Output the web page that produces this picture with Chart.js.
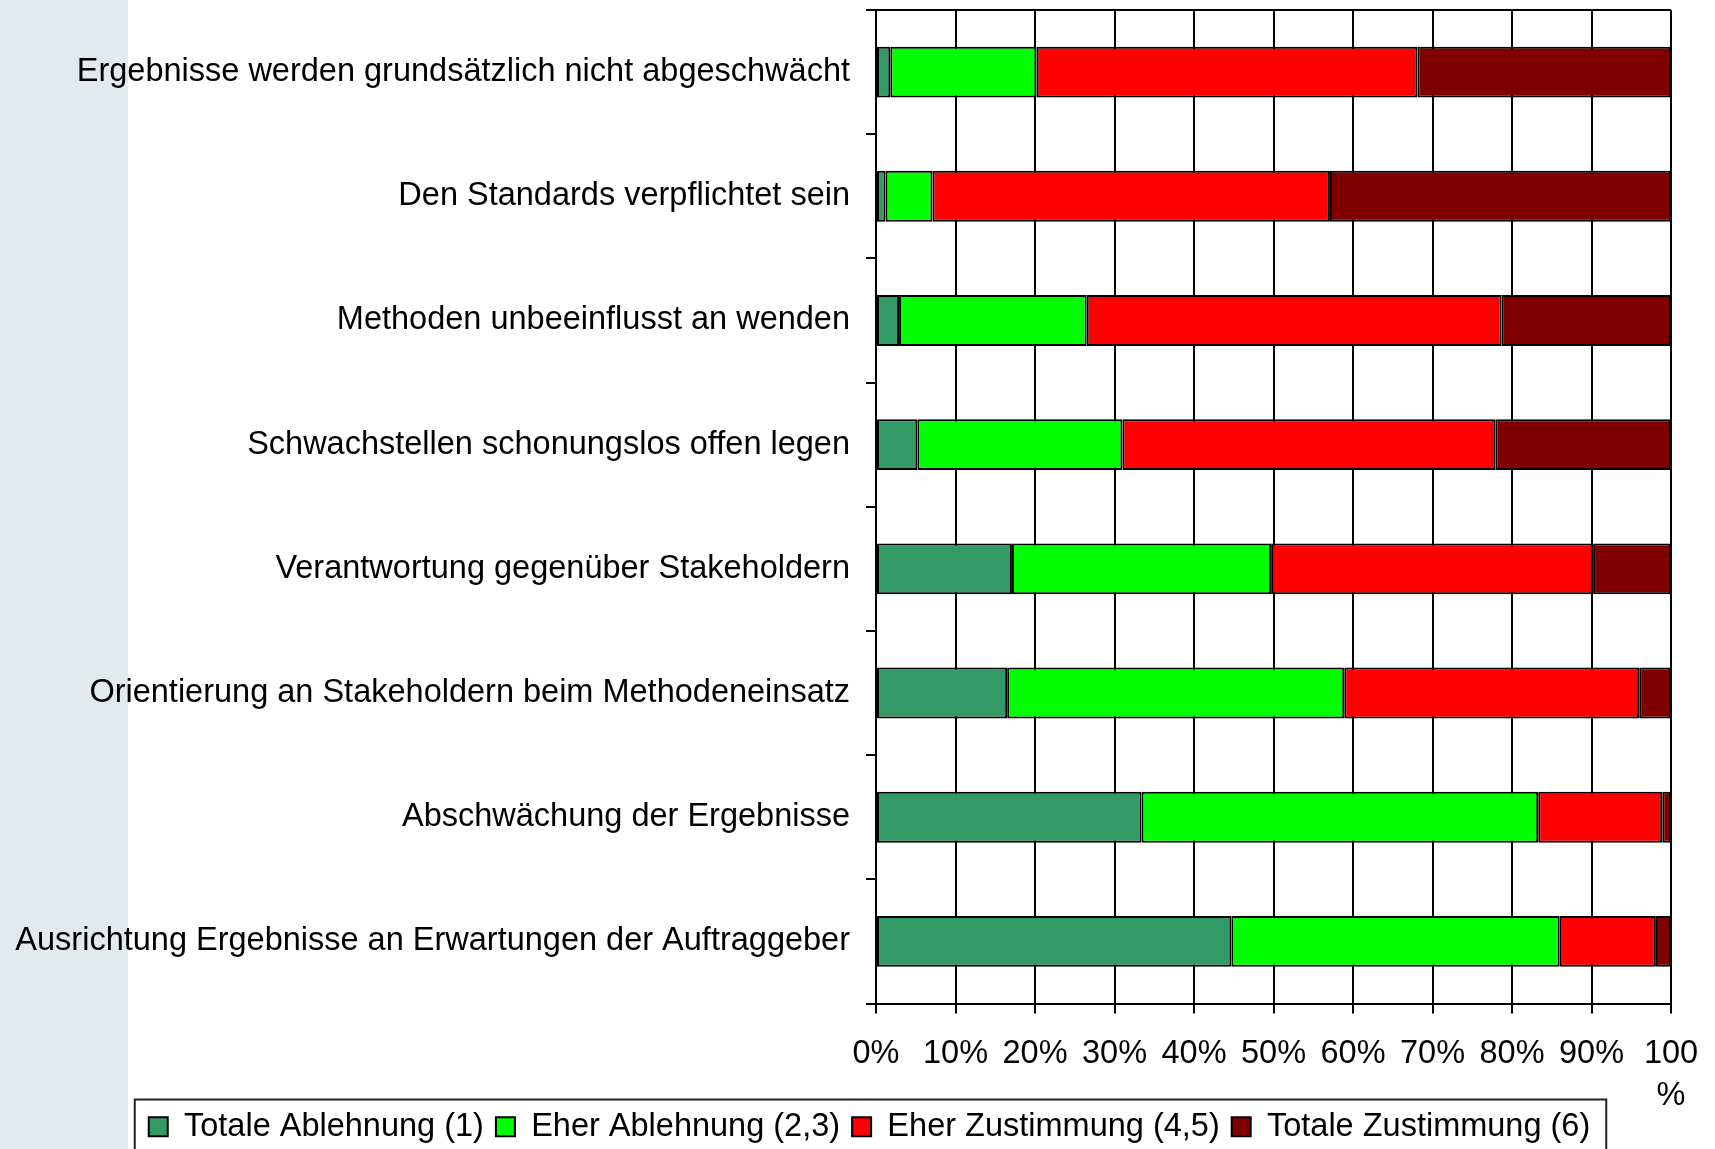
<!DOCTYPE html>
<html>
<head>
<meta charset="utf-8">
<script src="https://cdn.jsdelivr.net/npm/chart.js@4"></script>
<style>
    html, body { margin: 0; padding: 0; overflow: hidden; }
    body {
        width: 1715px;
        height: 1149px;
        background: linear-gradient(to right, #e3eaee 128px, #ffffff 128px);
    }
    canvas { display: block; }
</style>
</head>
<body>
<canvas id="umfrageChart" width="1715" height="1160"></canvas>
<script>
// Kategorien (von oben nach unten)
const kategorien = [
    'Ergebnisse werden grundsätzlich nicht abgeschwächt',
    'Den Standards verpflichtet sein',
    'Methoden unbeeinflusst an wenden',
    'Schwachstellen schonungslos offen legen',
    'Verantwortung gegenüber Stakeholdern',
    'Orientierung an Stakeholdern beim Methodeneinsatz',
    'Abschwächung der Ergebnisse',
    'Ausrichtung Ergebnisse an Erwartungen der Auftraggeber'
];

// Anteile in %
const totaleAblehnung  = [1.8, 1.2, 2.9, 5.2, 17.1, 16.5, 33.4, 44.7];
const eherAblehnung    = [18.4, 5.9, 23.6, 25.8, 32.6, 42.4, 49.9, 41.3];
const eherZustimmung   = [47.9, 50.0, 52.2, 46.9, 40.5, 37.1, 15.6, 12.1];
const totaleZustimmung = [31.9, 42.9, 21.3, 22.1, 9.8, 4.0, 1.1, 1.9];

const tickLabels = ['0%', '10%', '20%', '30%', '40%', '50%', '60%', '70%', '80%', '90%', ['100', '%']];

Chart.defaults.font.family = '"Liberation Sans", Arial, sans-serif';
Chart.defaults.font.size = 32.5;
Chart.defaults.color = '#000';

// Legende etwas nach rechts, Beschriftung der x-Achse nicht abschneiden
const anpassungen = {
    id: 'anpassungen',
    afterLayout(chart) {
        chart.legend.left += 34;
        chart.legend.right += 34;
        chart.scales.x.bottom += 40;
    },
    afterDraw(chart) {
        // Rahmen um die Legende
        const lg = chart.legend;
        const boxes = lg.legendHitBoxes;
        if (!boxes || !boxes.length) return;
        const first = boxes[0];
        const last = boxes[boxes.length - 1];
        const ctx = chart.ctx;
        ctx.save();
        ctx.strokeStyle = '#222';
        ctx.lineWidth = 2;
        const x = first.left - 14;
        const y = lg.top + lg.options.labels.padding - 11;
        ctx.strokeRect(x, y, last.left + last.width + 16 - x, 200);
        ctx.restore();
    }
};

const ctx = document.getElementById('umfrageChart').getContext('2d');

new Chart(ctx, {
    type: 'bar',
    data: {
        labels: kategorien,
        datasets: [
            { label: 'Totale Ablehnung (1)', data: totaleAblehnung, backgroundColor: '#339966' },
            { label: 'Eher Ablehnung (2,3)', data: eherAblehnung, backgroundColor: '#00ff00' },
            { label: 'Eher Zustimmung (4,5)', data: eherZustimmung, backgroundColor: '#ff0000' },
            { label: 'Totale Zustimmung (6)', data: totaleZustimmung, backgroundColor: '#800000' }
        ]
    },
    options: {
        indexAxis: 'y',
        responsive: false,
        animation: false,
        datasets: {
            bar: {
                borderColor: '#000',
                borderWidth: 2,
                borderSkipped: false,
                categoryPercentage: 1,
                barPercentage: 0.41
            }
        },
        layout: {
            padding: { left: 0, right: 44, top: 10, bottom: 7 }
        },
        scales: {
            x: {
                stacked: true,
                min: 0,
                max: 100,
                ticks: {
                    stepSize: 10,
                    autoSkip: false,
                    maxRotation: 0,
                    padding: 19,
                    font: { lineHeight: 1.3 },
                    callback: (value) => tickLabels[Math.round(value / 10)]
                },
                grid: {
                    color: '#000',
                    lineWidth: 2,
                    tickLength: 10
                },
                border: { color: '#000', width: 2 },
                afterFit: (scale) => {
                    scale.height = 95;
                    scale.paddingLeft = 0;
                    scale.paddingRight = 0;
                }
            },
            y: {
                stacked: true,
                ticks: {
                    padding: 16,
                    autoSkip: false
                },
                grid: {
                    color: (c) => (c.index === 0 ? '#000' : 'rgba(0,0,0,0)'),
                    tickColor: '#000',
                    lineWidth: 2,
                    tickLength: 10
                },
                border: { color: '#000', width: 2 },
                afterFit: (scale) => {
                    scale.width = 876;
                    scale.paddingTop = 0;
                    scale.paddingBottom = 0;
                }
            }
        },
        plugins: {
            legend: {
                position: 'bottom',
                labels: {
                    boxWidth: 19,
                    boxHeight: 19,
                    padding: 12
                }
            },
            tooltip: { enabled: false }
        }
    },
    plugins: [anpassungen]
});
</script>
</body>
</html>
